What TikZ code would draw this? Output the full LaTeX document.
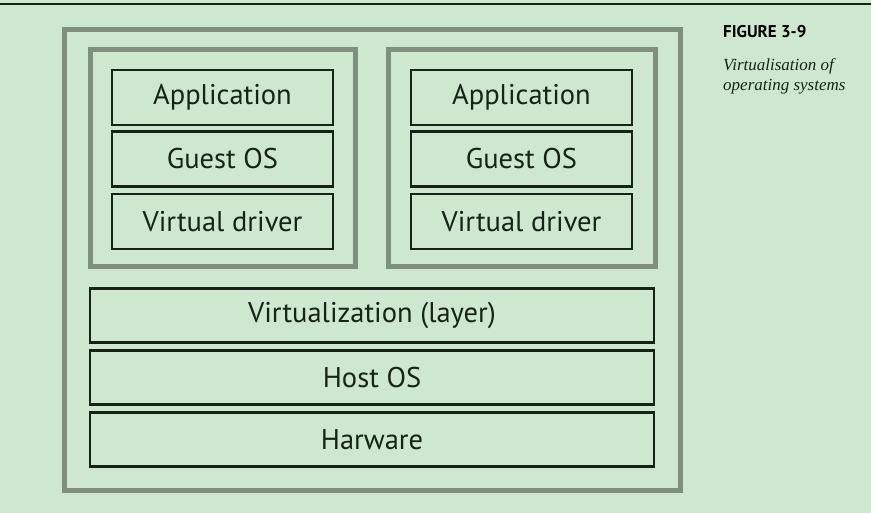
\documentclass[tikz,border=0pt]{standalone}
\usepackage{fontspec}
\setmainfont{PT Sans}
\newfontfamily\capfont{Liberation Serif}
\definecolor{bggreen}{HTML}{CDE8CF}
\definecolor{framegray}{HTML}{7F8F7E}
\definecolor{inkdark}{HTML}{172317}
\tikzset{
  layer/.style={draw=inkdark, line width=2.4pt, text=inkdark, inner sep=0pt,
    font=\fontsize{28.5}{32}\selectfont},
  vmlayer/.style={layer, minimum width=221pt, minimum height=55pt},
  hostlayer/.style={layer, minimum width=564pt, minimum height=54pt},
  frame/.style={draw=framegray, line width=5pt}
}
\begin{document}
\begin{tikzpicture}[x=1pt,y=-1pt]

\fill[bggreen] (0,0) rectangle (871,513);
\useasboundingbox (0,0) rectangle (871,513);
\draw[inkdark,line width=1.5pt] (0,4) -- (871,4);

% machine and the two guests
\draw[frame] (64,30) rectangle (680,490);
\draw[frame] (90,50) rectangle (355,267);
\draw[frame] (388,50) rectangle (655,267);

% left guest
\node[vmlayer] (appA) at (222.5,97.5) {Application};
\node[vmlayer] (osA) at (222.5,159) {Guest OS};
\node[vmlayer] (drvA) at (222.5,221.5) {Virtual driver};

% right guest
\node[vmlayer] (appB) at (521.5,97.5) {Application};
\node[vmlayer] (osB) at (521.5,159) {Guest OS};
\node[vmlayer] (drvB) at (521.5,221.5) {Virtual driver};

% host
\node[hostlayer] (virt) at (372,315.5) {Virtualization (layer)};
\node[hostlayer] (host) at (372,377.5) {Host OS};
\node[hostlayer] (hw) at (372,439.5) {Harware};

% caption
\node[anchor=west, inner sep=0pt, text=black, font=\fontsize{17}{20}\selectfont\bfseries] (fig) at (723,32) {FIGURE 3-9};
\node[anchor=north west, inner sep=0pt, align=left, text=inkdark, font=\capfont\itshape\fontsize{17}{20}\selectfont] (figtxt) at (723,58) {Virtualisation of\\operating systems};
\end{tikzpicture}
\end{document}
